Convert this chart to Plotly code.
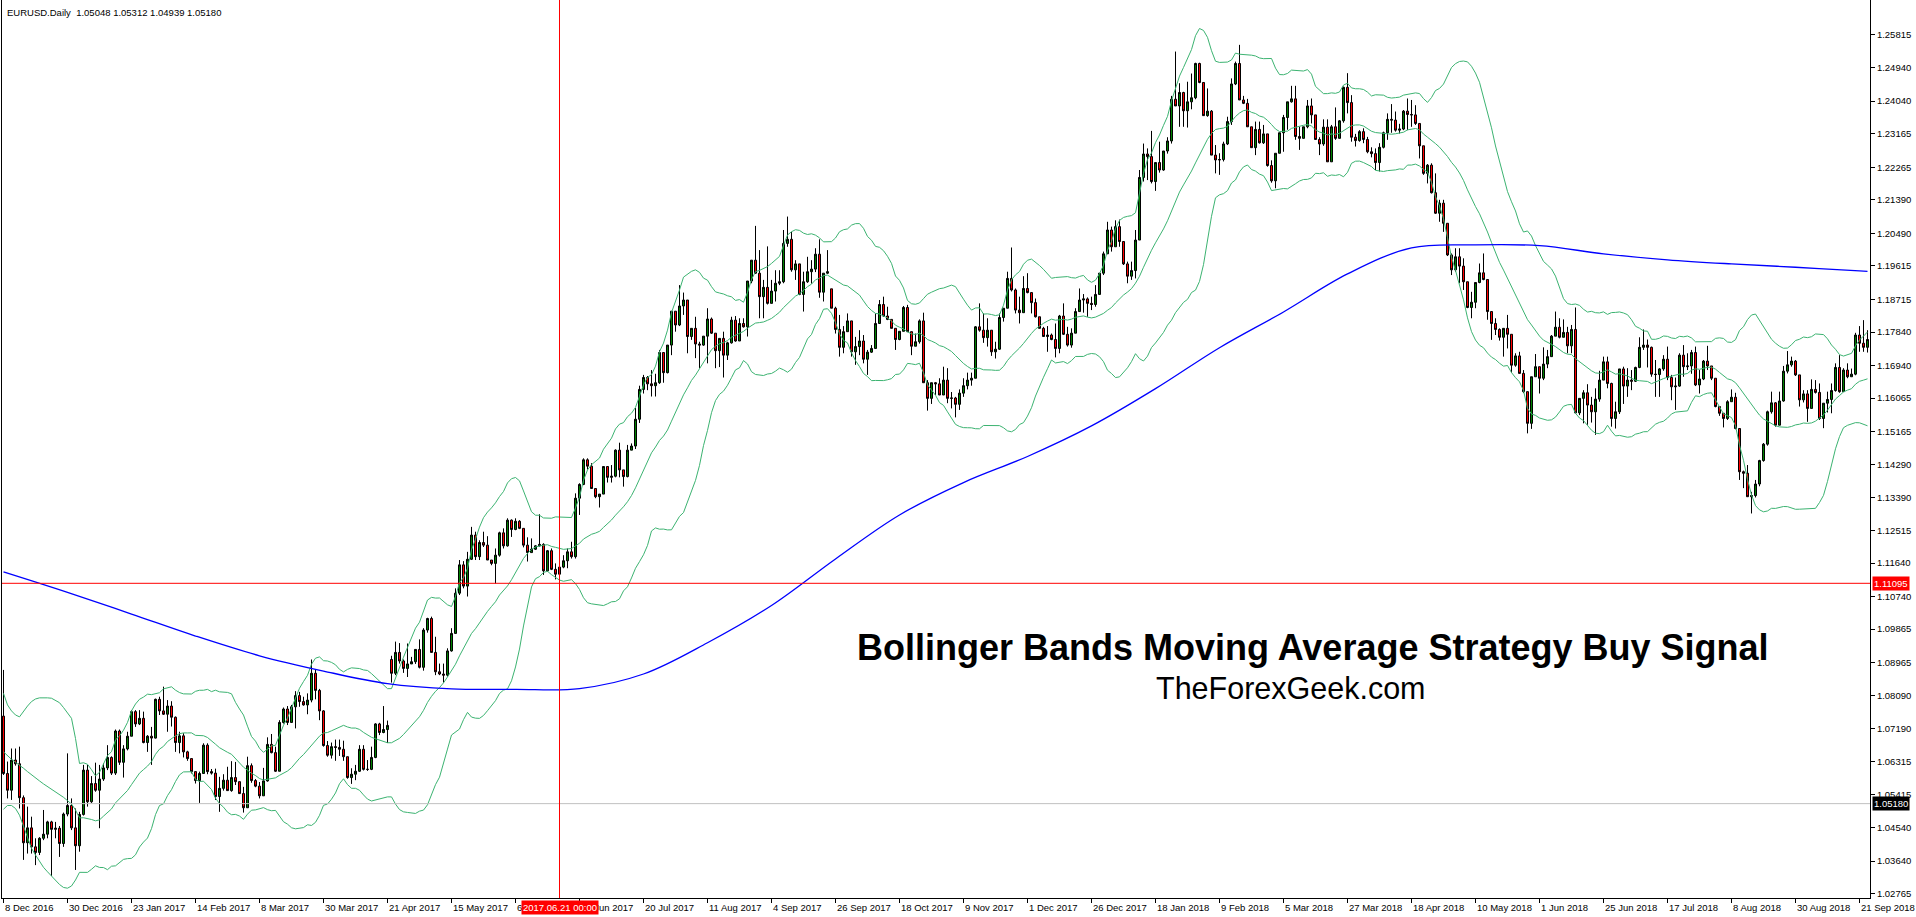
import numpy as np
import plotly.graph_objects as go

# ---------------- data ----------------
first_open = 1.0753
gap_opens = {97: 1.0905, 207: 1.1900}

closes = [
 1.0599,1.0554,1.0635,1.0625,1.0534,1.0413,1.0453,1.0402,1.0387,1.0425,
 1.0436,1.0469,1.0449,1.0452,1.0411,1.0490,1.0513,1.0453,1.0405,1.0489,
 1.0608,1.0523,1.0572,1.0554,1.0584,1.0614,1.0642,1.0600,1.0713,1.0629,
 1.0665,1.0699,1.0765,1.0732,1.0747,1.0682,1.0699,1.0694,1.0798,1.0767,
 1.0758,1.0780,1.0750,1.0682,1.0700,1.0657,1.0639,1.0604,1.0580,1.0599,
 1.0675,1.0604,1.0600,1.0537,1.0559,1.0581,1.0553,1.0588,1.0577,1.0545,
 1.0507,1.0620,1.0580,1.0565,1.0539,1.0579,1.0677,1.0655,1.0605,1.0736,
 1.0772,1.0736,1.0778,1.0808,1.0792,1.0783,1.0796,1.0868,1.0822,1.0767,
 1.0674,1.0648,1.0671,1.0669,1.0664,1.0644,1.0588,1.0597,1.0605,1.0664,
 1.0610,1.0610,1.0642,1.0732,1.0709,1.0717,1.0728,1.0868,1.0924,1.0901,
 1.0881,1.0893,1.0899,1.0932,1.0884,1.0984,1.1015,1.0924,1.0872,1.0866,
 1.0863,1.0928,1.0975,1.1083,1.1159,1.1102,1.1174,1.1239,1.1181,1.1219,
 1.1212,1.1172,1.1163,1.1185,1.1245,1.1210,1.1279,1.1254,1.1276,1.1257,
 1.1212,1.1192,1.1201,1.1210,1.1214,1.1143,1.1197,1.1147,1.1134,1.1153,
 1.1170,1.1194,1.1181,1.1338,1.1375,1.1441,1.1424,1.1364,1.1342,1.1349,
 1.1423,1.1394,1.1397,1.1467,1.1414,1.1396,1.1467,1.1478,1.1550,1.1630,
 1.1662,1.1645,1.1640,1.1648,1.1729,1.1675,1.1749,1.1840,1.1803,1.1854,
 1.1870,1.1772,1.1794,1.1752,1.1749,1.1773,1.1819,1.1781,1.1734,1.1767,
 1.1722,1.1755,1.1816,1.1760,1.1807,1.1798,1.1921,1.1977,1.1942,1.1879,
 1.1904,1.1861,1.1894,1.1915,1.1919,1.2022,1.2033,1.1951,1.1967,1.1885,
 1.1919,1.1946,1.1953,1.1993,1.1891,1.1942,1.1946,1.1848,1.1791,1.1743,
 1.1785,1.1814,1.1731,1.1745,1.1760,1.1711,1.1730,1.1740,1.1807,1.1858,
 1.1827,1.1818,1.1794,1.1764,1.1786,1.1850,1.1785,1.1746,1.1758,1.1814,
 1.1648,1.1606,1.1648,1.1645,1.1615,1.1655,1.1606,1.1607,1.1590,1.1620,
 1.1640,1.1655,1.1660,1.1798,1.1789,1.1769,1.1789,1.1731,1.1738,1.1823,
 1.1848,1.1928,1.1897,1.1843,1.1836,1.1901,1.1890,1.1863,1.1825,1.1794,
 1.1772,1.1776,1.1764,1.1740,1.1827,1.1778,1.1749,1.1781,1.1839,1.1870,
 1.1873,1.1861,1.1858,1.1885,1.1942,1.1994,1.2058,1.2013,1.2067,1.2027,
 1.1967,1.1934,1.1949,1.2031,1.2199,1.2262,1.2255,1.2188,1.2239,1.2219,
 1.2270,1.2297,1.2409,1.2391,1.2427,1.2378,1.2402,1.2413,1.2505,1.2454,
 1.2365,1.2377,1.2259,1.2246,1.2247,1.2289,1.2349,1.2450,1.2505,1.2407,
 1.2398,1.2335,1.2279,1.2328,1.2292,1.2316,1.2231,1.2190,1.2264,1.2319,
 1.2360,1.2402,1.2410,1.2309,1.2304,1.2335,1.2391,1.2367,1.2301,1.2289,
 1.2334,1.2241,1.2335,1.2304,1.2351,1.2441,1.2400,1.2307,1.2298,1.2322,
 1.2301,1.2268,1.2263,1.2239,1.2280,1.2319,1.2355,1.2353,1.2326,1.2329,
 1.2377,1.2368,1.2367,1.2344,1.2284,1.2210,1.2232,1.2158,1.2103,1.2130,
 1.2076,1.1991,1.1951,1.1986,1.1961,1.1919,1.1850,1.1864,1.1917,1.1943,
 1.1925,1.1839,1.1807,1.1791,1.1770,1.1794,1.1778,1.1695,1.1720,1.1673,
 1.1624,1.1539,1.1664,1.1691,1.1660,1.1698,1.1718,1.1773,1.1797,1.1770,
 1.1783,1.1747,1.1791,1.1567,1.1606,1.1621,1.1588,1.1570,1.1604,1.1655,
 1.1704,1.1646,1.1552,1.1570,1.1685,1.1639,1.1655,1.1652,1.1689,1.1743,
 1.1749,1.1743,1.1671,1.1670,1.1685,1.1711,1.1662,1.1637,1.1639,1.1722,
 1.1691,1.1693,1.1729,1.1642,1.1658,1.1706,1.1693,1.1660,1.1584,1.1566,
 1.1552,1.1597,1.1609,1.1525,1.1409,1.1405,1.1342,1.1345,1.1376,1.1439,
 1.1483,1.1570,1.1594,1.1534,1.1599,1.1679,1.1696,1.1706,1.1669,1.1602,
 1.1618,1.1579,1.1630,1.1622,1.1552,1.1593,1.1603,1.1627,1.1689,1.1624,
 1.1682,1.1664,1.1671,1.1776,1.1754,1.1743,1.1764]

highs = [
 1.0877,1.0631,1.0666,1.0666,1.0671,1.0540,1.0510,1.0483,1.0425,1.0428,
 1.0501,1.0472,1.0472,1.0469,1.0458,1.0494,1.0653,1.0532,1.0505,1.0496,
 1.0622,1.0622,1.0592,1.0628,1.0622,1.0626,1.0675,1.0645,1.0717,1.0717,
 1.0675,1.0711,1.0769,1.0769,1.0769,1.0765,1.0702,1.0724,1.0800,1.0805,
 1.0832,1.0796,1.0793,1.0752,1.0711,1.0707,1.0660,1.0639,1.0604,1.0604,
 1.0680,1.0680,1.0611,1.0612,1.0590,1.0597,1.0617,1.0632,1.0630,1.0577,
 1.0563,1.0644,1.0626,1.0584,1.0576,1.0614,1.0696,1.0705,1.0671,1.0742,
 1.0776,1.0780,1.0783,1.0820,1.0818,1.0805,1.0814,1.0905,1.0877,1.0826,
 1.0769,1.0686,1.0682,1.0690,1.0690,1.0687,1.0642,1.0613,1.0622,1.0675,
 1.0675,1.0635,1.0671,1.0734,1.0735,1.0780,1.0741,1.0915,1.0953,1.0949,
 1.0905,1.0948,1.0912,1.0932,1.0959,1.0989,1.1017,1.1020,1.0966,1.0894,
 1.0894,1.0935,1.0989,1.1096,1.1172,1.1169,1.1194,1.1261,1.1248,1.1225,
 1.1248,1.1236,1.1172,1.1203,1.1248,1.1257,1.1284,1.1281,1.1284,1.1279,
 1.1257,1.1233,1.1230,1.1212,1.1295,1.1217,1.1199,1.1203,1.1163,1.1170,
 1.1185,1.1203,1.1221,1.1351,1.1378,1.1445,1.1445,1.1432,1.1364,1.1349,
 1.1423,1.1423,1.1427,1.1469,1.1487,1.1414,1.1481,1.1485,1.1580,1.1640,
 1.1669,1.1666,1.1682,1.1672,1.1736,1.1729,1.1749,1.1840,1.1840,1.1910,
 1.1890,1.1870,1.1794,1.1825,1.1758,1.1773,1.1848,1.1823,1.1781,1.1767,
 1.1785,1.1758,1.1825,1.1827,1.1821,1.1821,1.1921,1.1977,1.2069,1.2004,
 1.1924,1.2014,1.1924,1.1950,1.1950,1.2058,1.2094,1.2053,1.1977,1.1967,
 1.1946,1.1986,1.1977,1.2009,1.2033,1.1942,1.2004,1.1900,1.1852,1.1830,
 1.1800,1.1834,1.1794,1.1771,1.1789,1.1776,1.1736,1.1749,1.1834,1.1870,
 1.1879,1.1852,1.1818,1.1794,1.1786,1.1854,1.1857,1.1780,1.1780,1.1818,
 1.1836,1.1655,1.1648,1.1650,1.1660,1.1691,1.1687,1.1623,1.1610,1.1630,
 1.1660,1.1675,1.1675,1.1800,1.1861,1.1834,1.1821,1.1784,1.1758,1.1834,
 1.1848,1.1946,1.2011,1.1901,1.1879,1.1934,1.1942,1.1876,1.1874,1.1825,
 1.1798,1.1800,1.1780,1.1807,1.1830,1.1861,1.1798,1.1794,1.1848,1.1901,
 1.1886,1.1877,1.1879,1.1910,1.1942,1.2000,1.2080,1.2067,1.2084,1.2086,
 1.2027,1.1973,1.1973,1.2058,1.2219,1.2290,1.2277,1.2324,1.2239,1.2295,
 1.2270,1.2307,1.2418,1.2537,1.2452,1.2429,1.2456,1.2478,1.2507,1.2507,
 1.2447,1.2438,1.2380,1.2286,1.2264,1.2295,1.2362,1.2465,1.2510,1.2555,
 1.2418,1.2410,1.2335,1.2349,1.2349,1.2340,1.2316,1.2245,1.2264,1.2319,
 1.2367,1.2402,1.2445,1.2445,1.2335,1.2335,1.2407,1.2411,1.2367,1.2307,
 1.2355,1.2355,1.2340,1.2387,1.2353,1.2443,1.2479,1.2420,1.2316,1.2326,
 1.2331,1.2308,1.2280,1.2277,1.2291,1.2322,1.2371,1.2396,1.2376,1.2343,
 1.2380,1.2411,1.2407,1.2393,1.2335,1.2277,1.2235,1.2237,1.2210,1.2139,
 1.2139,1.2076,1.1995,1.2009,1.2009,1.1982,1.1919,1.1892,1.1917,1.1968,
 1.1995,1.1925,1.1839,1.1821,1.1794,1.1794,1.1830,1.1778,1.1727,1.1731,
 1.1682,1.1624,1.1664,1.1725,1.1686,1.1743,1.1736,1.1776,1.1839,1.1821,
 1.1818,1.1798,1.1803,1.1850,1.1606,1.1628,1.1644,1.1610,1.1633,1.1680,
 1.1718,1.1718,1.1648,1.1597,1.1685,1.1691,1.1687,1.1682,1.1691,1.1770,
 1.1791,1.1764,1.1745,1.1709,1.1687,1.1722,1.1745,1.1669,1.1662,1.1727,
 1.1749,1.1727,1.1736,1.1745,1.1682,1.1709,1.1747,1.1693,1.1660,1.1585,
 1.1566,1.1601,1.1630,1.1621,1.1525,1.1412,1.1427,1.1355,1.1387,1.1441,
 1.1486,1.1573,1.1624,1.1596,1.1624,1.1693,1.1733,1.1718,1.1709,1.1664,
 1.1628,1.1628,1.1657,1.1655,1.1646,1.1593,1.1624,1.1646,1.1700,1.1722,
 1.1687,1.1700,1.1686,1.1782,1.1800,1.1816,1.1789]

lows = [
 1.0595,1.0532,1.0528,1.0620,1.0505,1.0367,1.0384,1.0384,1.0353,1.0380,
 1.0420,1.0425,1.0324,1.0425,1.0375,1.0402,1.0484,1.0447,1.0340,1.0389,
 1.0486,1.0510,1.0520,1.0550,1.0452,1.0579,1.0608,1.0595,1.0595,1.0622,
 1.0588,1.0661,1.0699,1.0724,1.0729,1.0680,1.0657,1.0622,1.0693,1.0756,
 1.0756,1.0711,1.0725,1.0657,1.0653,1.0642,1.0633,1.0599,1.0572,1.0520,
 1.0599,1.0597,1.0596,1.0528,1.0496,1.0553,1.0553,1.0550,1.0568,1.0544,
 1.0494,1.0507,1.0574,1.0562,1.0532,1.0539,1.0577,1.0653,1.0603,1.0605,
 1.0733,1.0729,1.0738,1.0720,1.0778,1.0781,1.0758,1.0790,1.0798,1.0742,
 1.0671,1.0644,1.0639,1.0633,1.0646,1.0633,1.0585,1.0571,1.0581,1.0603,
 1.0607,1.0606,1.0608,1.0640,1.0702,1.0707,1.0681,1.0843,1.0863,1.0894,
 1.0869,1.0858,1.0895,1.0893,1.0881,1.0875,1.0977,1.0924,1.0863,1.0863,
 1.0843,1.0859,1.0926,1.0975,1.1078,1.1096,1.1074,1.1172,1.1172,1.1172,
 1.1207,1.1172,1.1158,1.1109,1.1181,1.1203,1.1208,1.1234,1.1252,1.1255,
 1.1206,1.1168,1.1194,1.1199,1.1208,1.1132,1.1141,1.1145,1.1120,1.1129,
 1.1150,1.1150,1.1176,1.1176,1.1293,1.1373,1.1415,1.1364,1.1338,1.1313,
 1.1349,1.1380,1.1380,1.1394,1.1394,1.1369,1.1394,1.1467,1.1470,1.1540,
 1.1619,1.1628,1.1611,1.1611,1.1645,1.1648,1.1673,1.1722,1.1785,1.1800,
 1.1830,1.1727,1.1763,1.1714,1.1687,1.1747,1.1700,1.1779,1.1687,1.1690,
 1.1662,1.1709,1.1753,1.1758,1.1760,1.1796,1.1772,1.1915,1.1940,1.1821,
 1.1821,1.1858,1.1870,1.1866,1.1910,1.1915,1.2013,1.1946,1.1924,1.1883,
 1.1839,1.1916,1.1914,1.1945,1.1876,1.1866,1.1940,1.1848,1.1780,1.1718,
 1.1727,1.1785,1.1718,1.1696,1.1722,1.1700,1.1669,1.1728,1.1740,1.1807,
 1.1825,1.1816,1.1794,1.1736,1.1762,1.1786,1.1785,1.1722,1.1746,1.1753,
 1.1648,1.1573,1.1591,1.1615,1.1615,1.1615,1.1593,1.1579,1.1555,1.1575,
 1.1610,1.1630,1.1640,1.1660,1.1785,1.1755,1.1745,1.1720,1.1713,1.1736,
 1.1812,1.1848,1.1893,1.1834,1.1807,1.1836,1.1888,1.1834,1.1823,1.1794,
 1.1772,1.1731,1.1762,1.1716,1.1727,1.1776,1.1745,1.1742,1.1781,1.1839,
 1.1836,1.1825,1.1843,1.1852,1.1884,1.1937,1.1994,1.2000,1.2013,1.2013,
 1.1964,1.1915,1.1924,1.1928,1.2031,1.2188,1.2192,1.2183,1.2163,1.2212,
 1.2217,1.2263,1.2290,1.2391,1.2335,1.2335,1.2333,1.2382,1.2409,1.2452,
 1.2364,1.2362,1.2259,1.2210,1.2206,1.2242,1.2286,1.2340,1.2447,1.2407,
 1.2396,1.2335,1.2279,1.2259,1.2290,1.2289,1.2228,1.2185,1.2170,1.2264,
 1.2268,1.2327,1.2400,1.2300,1.2273,1.2304,1.2331,1.2344,1.2301,1.2259,
 1.2284,1.2241,1.2241,1.2300,1.2304,1.2346,1.2371,1.2295,1.2282,1.2295,
 1.2291,1.2264,1.2253,1.2219,1.2215,1.2277,1.2300,1.2319,1.2322,1.2317,
 1.2326,1.2326,1.2335,1.2340,1.2250,1.2206,1.2183,1.2156,1.2101,1.2080,
 1.2053,1.1988,1.1937,1.1946,1.1915,1.1897,1.1848,1.1821,1.1848,1.1915,
 1.1923,1.1817,1.1763,1.1776,1.1761,1.1718,1.1740,1.1675,1.1691,1.1673,
 1.1620,1.1512,1.1524,1.1664,1.1619,1.1655,1.1687,1.1718,1.1773,1.1767,
 1.1770,1.1727,1.1727,1.1566,1.1561,1.1539,1.1535,1.1541,1.1508,1.1597,
 1.1655,1.1633,1.1530,1.1525,1.1564,1.1591,1.1610,1.1628,1.1650,1.1687,
 1.1736,1.1689,1.1664,1.1610,1.1610,1.1680,1.1655,1.1601,1.1575,1.1637,
 1.1664,1.1682,1.1672,1.1639,1.1619,1.1655,1.1682,1.1655,1.1582,1.1559,
 1.1528,1.1548,1.1597,1.1523,1.1387,1.1365,1.1342,1.1297,1.1340,1.1370,
 1.1436,1.1479,1.1565,1.1530,1.1534,1.1597,1.1673,1.1691,1.1666,1.1584,
 1.1595,1.1543,1.1579,1.1619,1.1548,1.1526,1.1568,1.1566,1.1624,1.1621,
 1.1624,1.1660,1.1664,1.1668,1.1731,1.1731,1.1729]

# Bollinger band values read for the first 19 bars (history before window not shown)
bb_head_upper = [1.0814,1.0783,1.0767,1.0756,1.0751,1.0767,1.0780,1.0792,1.0799,1.0802,
                 1.0803,1.0802,1.0801,1.0796,1.0789,1.0776,1.0762,1.0747,1.0693]
bb_head_mid = [1.0657,1.0646,1.0637,1.0629,1.0622,1.0613,1.0604,1.0595,1.0587,1.0579,
               1.0571,1.0564,1.0556,1.0550,1.0543,1.0535,1.0526,1.0517,1.0501]
bb_head_lower = [1.0503,1.0513,1.0513,1.0505,1.0487,1.0456,1.0425,1.0398,1.0380,1.0362,
                 1.0347,1.0335,1.0324,1.0311,1.0301,1.0293,1.0291,1.0297,1.0313]

# 200-period moving average
ma_bars = [0,16,32,48,64,80,96,112,128,144,160,176,192,208,224,240,256,272,288,304,
           320,336,352,368,384,400,416,432,448,464,466]
ma_vals = [1.1140,1.1085,1.1027,1.0968,1.0915,1.0874,1.0840,1.0826,1.0825,1.0827,
           1.0866,1.0950,1.1050,1.1175,1.1293,1.1380,1.1450,1.1532,1.1632,1.1742,
           1.1838,1.1940,1.2010,1.2018,1.2016,1.1994,1.1978,1.1967,1.1958,1.1948,1.1947]

date_labels = ["8 Dec 2016","30 Dec 2016","23 Jan 2017","14 Feb 2017","8 Mar 2017",
               "30 Mar 2017","21 Apr 2017","15 May 2017","6 Jun 2017","28 Jun 2017",
               "20 Jul 2017","11 Aug 2017","4 Sep 2017","26 Sep 2017","18 Oct 2017",
               "9 Nov 2017","1 Dec 2017","26 Dec 2017","18 Jan 2018","9 Feb 2018",
               "5 Mar 2018","27 Mar 2018","18 Apr 2018","10 May 2018","1 Jun 2018",
               "25 Jun 2018","17 Jul 2018","8 Aug 2018","30 Aug 2018","21 Sep 2018"]
label_step = 16

price_ticks = ["1.25815","1.24940","1.24040","1.23165","1.22265","1.21390","1.20490",
               "1.19615","1.18715","1.17840","1.16940","1.16065","1.15165","1.14290",
               "1.13390","1.12515","1.11640","1.10740","1.09865","1.08965","1.08090",
               "1.07190","1.06315","1.05415","1.04540","1.03640","1.02765"]

level_red = 1.11095
level_bid = 1.05180
cursor_bar = 139
cursor_label = "2017.06.21 00:00"
header = "EURUSD.Daily  1.05048 1.05312 1.04939 1.05180"
title_text = "Bollinger Bands Moving Average Strategy Buy Signal"
site_text = "TheForexGeek.com"

# ---------------- derived ----------------
n = len(closes)
idx = list(range(n))
opens = [first_open] + closes[:-1]
for k, v in gap_opens.items():
    opens[k] = v
hi = [max(h, o, c) for h, o, c in zip(highs, opens, closes)]
lo = [min(l, o, c) for l, o, c in zip(lows, opens, closes)]

c_arr = np.array(closes)
period = 20
mid = list(bb_head_mid)
up = list(bb_head_upper)
dn = list(bb_head_lower)
for i in range(period - 1, n):
    w = c_arr[i - period + 1:i + 1]
    m = w.mean()
    s = w.std()
    mid.append(m); up.append(m + 2 * s); dn.append(m - 2 * s)

FONT = "Liberation Sans"
BB_COLOR = "#3cb371"

fig = go.Figure()
for band in (up, mid, dn):
    fig.add_trace(go.Scatter(x=idx, y=band, mode="lines",
                             line=dict(color=BB_COLOR, width=1), hoverinfo="skip"))
fig.add_trace(go.Scatter(x=ma_bars, y=ma_vals, mode="lines",
                         line=dict(color="#0000ff", width=1.3, shape="spline"),
                         hoverinfo="skip"))
fig.add_trace(go.Candlestick(
    x=idx, open=opens, high=hi, low=lo, close=closes,
    increasing=dict(line=dict(color="black", width=1), fillcolor="#008000"),
    decreasing=dict(line=dict(color="black", width=1), fillcolor="#ff0000"),
    whiskerwidth=0))

tick_bars = [k * label_step for k in range(len(date_labels))]

annotations = []
for b, lab in zip(tick_bars, date_labels):
    annotations.append(dict(x=b, y=0, xref="x", yref="paper", text=lab,
                            xanchor="left", yanchor="top", yshift=-2, xshift=-1,
                            showarrow=False, font=dict(family=FONT, size=9.5, color="black")))
annotations.append(dict(x=cursor_bar, y=0, xref="x", yref="paper", text=cursor_label,
                        xanchor="center", yanchor="top", yshift=-2, showarrow=False,
                        bgcolor="#ff0000", borderpad=1,
                        font=dict(family=FONT, size=9.5, color="white")))
annotations.append(dict(x=1, y=level_red, xref="paper", yref="y", text=f"{level_red:.5f}",
                        xanchor="left", yanchor="middle", xshift=2, showarrow=False,
                        bgcolor="#ff0000", borderpad=1,
                        font=dict(family=FONT, size=9.5, color="white")))
annotations.append(dict(x=1, y=level_bid, xref="paper", yref="y", text=f"{level_bid:.5f}",
                        xanchor="left", yanchor="middle", xshift=2, showarrow=False,
                        bgcolor="#000000", borderpad=1,
                        font=dict(family=FONT, size=9.5, color="white")))
annotations.append(dict(x=0, y=1, xref="paper", yref="paper", text=header,
                        xanchor="left", yanchor="top", xshift=3, yshift=-5, showarrow=False,
                        font=dict(family=FONT, size=9.5, color="black")))
annotations.append(dict(x=327.3, y=1.0936, xref="x", yref="y", text=f"<b>{title_text}</b>",
                        xanchor="center", yanchor="middle", showarrow=False,
                        font=dict(family=FONT, size=36, color="black")))
annotations.append(dict(x=321.8, y=1.0828, xref="x", yref="y", text=site_text,
                        xanchor="center", yanchor="middle", showarrow=False,
                        font=dict(family=FONT, size=30.5, color="black")))

shapes = [
    dict(type="line", xref="paper", yref="y", x0=0, x1=1, y0=level_red, y1=level_red,
         line=dict(color="#ff0000", width=1)),
    dict(type="line", xref="paper", yref="y", x0=0, x1=1, y0=level_bid, y1=level_bid,
         line=dict(color="#c0c0c0", width=1)),
    dict(type="line", xref="x", yref="paper", x0=cursor_bar, x1=cursor_bar, y0=0, y1=1,
         line=dict(color="#ff0000", width=1)),
]

fig.update_layout(
    width=1916, height=917,
    margin=dict(l=2, r=46, t=0, b=19),
    paper_bgcolor="white", plot_bgcolor="white",
    showlegend=False,
    boxgap=0.5, boxgroupgap=0,
    annotations=annotations,
    shapes=shapes,
    xaxis=dict(range=[-0.375, 466.625], rangeslider=dict(visible=False),
               tickvals=tick_bars, showticklabels=False, ticks="outside", ticklen=4,
               tickcolor="black", showgrid=False, zeroline=False,
               showline=True, linecolor="black", linewidth=1, mirror=True),
    yaxis=dict(range=[1.02647, 1.26754], side="right",
               tickvals=[float(t) for t in price_ticks], ticktext=price_ticks,
               ticks="outside", ticklen=4, tickcolor="black",
               tickfont=dict(family=FONT, size=9.5, color="black"),
               showgrid=False, zeroline=False,
               showline=True, linecolor="black", linewidth=1, mirror=True),
)

fig.write_html("out.html", config={"displayModeBar": False},
               post_script="document.body.style.margin='0';")
